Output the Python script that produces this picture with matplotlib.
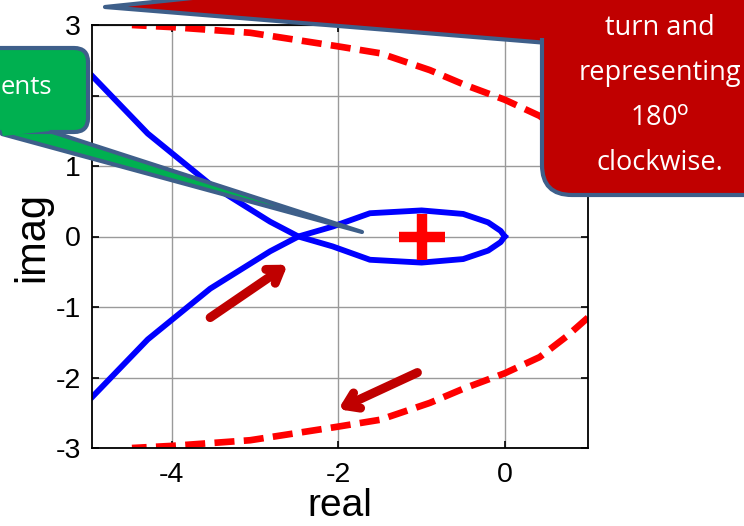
import numpy as np
import matplotlib.pyplot as plt
from matplotlib.patches import FancyBboxPatch, Polygon

# blue branch (positive frequencies), the other branch is its mirror image
re_pos = [-4.96, -4.29, -3.54, -2.82, -2.48, -2.07, -1.62, -1.0, -0.5, -0.2, -0.05, 0.0]
im_pos = [2.28, 1.46, 0.74, 0.21, 0.0, -0.14, -0.33, -0.37, -0.32, -0.2, -0.08, 0.0]

# red dashed arc at infinity (lower half, upper half is mirrored)
re_arc = [1.0, 0.74, 0.42, 0.0, -0.5, -0.9, -1.5, -2.02, -3.06, -4.0, -4.48]
im_arc = [-1.15, -1.42, -1.71, -1.94, -2.16, -2.36, -2.6, -2.7, -2.89, -2.97, -3.0]

crit_point = (-1, 0)
xticks = [-4, -2, 0]
yticks = [-3, -2, -1, 0, 1, 2, 3]

W, H = 744, 526
fig = plt.figure(figsize=(W / 100, H / 100), dpi=100)
plt.rcParams['font.family'] = ['Liberation Sans', 'DejaVu Sans']
plt.rcParams['axes.unicode_minus'] = False
ax = fig.add_axes([92 / W, 1 - 448 / H, (588 - 92) / W, (448 - 25) / H])

blue = '#0000ff'
ax.plot(re_pos, im_pos, color=blue, lw=4.2, solid_joinstyle='round')
ax.plot(re_pos, -np.array(im_pos), color=blue, lw=4.2, solid_joinstyle='round')
ax.plot(re_arc, im_arc, color='#ff0000', lw=4.8, dashes=(3.0, 1.4), dash_capstyle='butt')
ax.plot(re_arc, -np.array(im_arc), color='#ff0000', lw=4.8, dashes=(3.0, 1.4), dash_capstyle='butt')
ax.plot(*crit_point, marker='+', color='#ff0000', markersize=33, mew=7.5)

arrow_kw = dict(arrowstyle='->,head_length=0.9,head_width=0.6', color='#c00000', lw=6.5,
                capstyle='round', joinstyle='round', shrinkA=0, shrinkB=0)
ax.annotate('', xy=(-2.61, -0.40), xytext=(-3.54, -1.15), arrowprops=arrow_kw)
ax.annotate('', xy=(-2.0, -2.45), xytext=(-1.05, -1.93), arrowprops=arrow_kw)

ax.set_xlim(-4.96, 1)
ax.set_ylim(-3, 3)
ax.set_xticks(xticks)
ax.set_yticks(yticks)
ax.grid(True, color='#9a9a9a', lw=1)
ax.tick_params(direction='in', top=True, right=True, length=5, width=1.2, labelsize=20.5)
ax.tick_params(axis='x', pad=10)
ax.tick_params(axis='y', pad=8)
for s in ax.spines.values():
    s.set_linewidth(1.3)
ax.set_xlabel('real', fontsize=28, labelpad=0)
ax.set_ylabel('imag', fontsize=30, labelpad=2)

# callouts overlay in pixel coordinates
ov = fig.add_axes([0, 0, 1, 1], zorder=10)
ov.set_xlim(0, W)
ov.set_ylim(H, 0)
ov.axis('off')
ov.patch.set_alpha(0)

edge = '#3e5f8a'
green = '#00b050'
red = '#c00000'

# green callout
ov.add_patch(Polygon([(2, 134), (40, 128), (362, 232)], closed=True, fc=green, ec=edge, lw=3,
                     joinstyle='round'))
ov.add_patch(FancyBboxPatch((-40, 48), 128, 84, boxstyle='round,pad=0,rounding_size=14',
                            fc=green, ec=edge, lw=3))
ov.add_patch(Polygon([(0, 125), (44, 125), (50, 131), (3, 136)], closed=True, fc=green, ec='none'))
ov.text(1, 88, 'ents', color='white', fontsize=18.5, family='Open Sans', ha='left', va='center')

# red callout
ov.add_patch(Polygon([(105, 7), (548, 43), (560, -40)], closed=True, fc=red, ec=edge, lw=3,
                     joinstyle='round'))
ov.add_patch(FancyBboxPatch((542, -40), 240, 235, boxstyle='round,pad=0,rounding_size=30',
                            fc=red, ec=edge, lw=3))
ov.add_patch(Polygon([(530, -20), (550, -20), (550, 38), (530, 38)], closed=True, fc=red, ec='none'))
lines = ['turn and', 'representing', r'180$^{\mathrm{o}}$', 'clockwise.']
for i, t in enumerate(lines):
    ov.text(660, 35 + 45 * i, t, color='white', fontsize=19.5, family='Open Sans',
            ha='center', va='baseline')

fig.savefig('out.png', dpi=100)
